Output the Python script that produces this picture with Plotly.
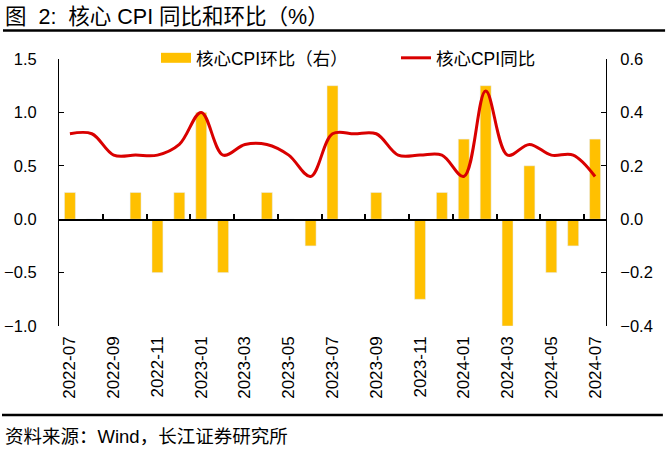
import plotly.graph_objects as go

months = ["2022-07", "2022-08", "2022-09", "2022-10", "2022-11", "2022-12",
          "2023-01", "2023-02", "2023-03", "2023-04", "2023-05", "2023-06",
          "2023-07", "2023-08", "2023-09", "2023-10", "2023-11", "2023-12",
          "2024-01", "2024-02", "2024-03", "2024-04", "2024-05", "2024-06",
          "2024-07"]
core_mom = [0.1, 0.0, 0.0, 0.1, -0.2, 0.1, 0.4, -0.2, 0.0, 0.1, 0.0, -0.1,
            0.5, 0.0, 0.1, 0.0, -0.3, 0.1, 0.3, 0.5, -0.4, 0.2, -0.2, -0.1, 0.3]
core_yoy = [0.8, 0.8, 0.6, 0.6, 0.6, 0.7, 1.0, 0.6, 0.7, 0.7, 0.6, 0.4,
            0.8, 0.8, 0.8, 0.6, 0.6, 0.6, 0.4, 1.2, 0.6, 0.7, 0.6, 0.6, 0.4]
tick_labels = months[::2]
left_ticks = [-1.0, -0.5, 0.0, 0.5, 1.0, 1.5]
right_ticks = [-0.4, -0.2, 0.0, 0.2, 0.4, 0.6]
boundary_ticks = [i + 1.5 for i in range(0, 24, 2)]

FONT = "Liberation Sans, Arial, Noto Sans CJK SC"
BAR_C = "#FFC000"
LINE_C = "#D90000"
ZERO_POS = 0.4  # where 0 sits on both value axes (fraction of plot height)

fig = go.Figure()
fig.add_trace(go.Bar(x=months, y=core_mom, name="核心CPI环比（右）", marker_color=BAR_C,
                     yaxis="y", showlegend=False))
fig.add_trace(go.Scatter(x=[None], y=[None], mode="lines", name="核心CPI环比（右）",
                         line=dict(color=BAR_C, width=10), yaxis="y"))
fig.add_trace(go.Scatter(x=months, y=core_yoy, mode="lines", name="核心CPI同比",
                         line=dict(color=LINE_C, width=3, shape="spline", smoothing=1),
                         yaxis="y2"))
# carrier trace so the zero-line axis (x2 on y3) is drawn
fig.add_trace(go.Scatter(x=[0], y=[None], mode="lines", xaxis="x2", yaxis="y3",
                         showlegend=False, hoverinfo="skip"))

fig.update_layout(
    width=669, height=459,
    margin=dict(l=59, r=63, t=59, b=133, autoexpand=False),
    paper_bgcolor="white", plot_bgcolor="rgba(0,0,0,0)",
    font=dict(family=FONT, size=16, color="#000000"),
    bargap=0.5,
    showlegend=True,
    legend=dict(orientation="h", x=0.1773, y=1.004, xanchor="left", yanchor="middle",
                font=dict(size=17.5), entrywidth=195, entrywidthmode="pixels",
                bgcolor="rgba(0,0,0,0)"),
    xaxis=dict(type="category", categoryorder="array", categoryarray=months,
               tickmode="array", tickvals=tick_labels, ticktext=tick_labels,
               tickangle=-90, ticks="", showline=False, showgrid=False,
               zeroline=False, ticklabelstandoff=6, range=[-0.5, 24.5],
               tickfont=dict(size=17), automargin=False),
    xaxis2=dict(anchor="y3", domain=[0, 1], range=[-0.5, 24.5],
                tickmode="array", tickvals=boundary_ticks, showticklabels=False,
                ticks="inside", ticklen=5, tickwidth=1.5, tickcolor="black",
                showline=True, linecolor="black", linewidth=1.5, showgrid=False,
                zeroline=False, automargin=False, fixedrange=True),
    yaxis3=dict(domain=[ZERO_POS, 1], anchor="x2", visible=False, range=[0, 1],
                fixedrange=True),
    yaxis=dict(side="right", range=[-0.4, 0.6], tickmode="array", tickvals=right_ticks,
               tickformat=".1f", showgrid=False, zeroline=False, showline=True,
               linecolor="black", linewidth=1, ticks="inside", ticklen=5,
               tickcolor="black", ticklabelstandoff=10, tickfont=dict(size=16.5),
               automargin=False),
    yaxis2=dict(side="left", overlaying="y", range=[-1.0, 1.5], tickmode="array",
                tickvals=left_ticks, tickformat=".1f", showgrid=False, zeroline=False,
                showline=True, linecolor="black", linewidth=1, ticks="inside",
                ticklen=5, tickcolor="black", ticklabelstandoff=18,
                tickfont=dict(size=16.5), automargin=False),
)

fig.add_annotation(text="图  2:  核心 CPI 同比和环比（%）", xref="paper", yref="paper",
                   x=-0.1024, y=1.157, xanchor="left", yanchor="middle", showarrow=False,
                   font=dict(size=21.5, family=FONT))
fig.add_annotation(text="资料来源：Wind，长江证券研究所", xref="paper", yref="paper",
                   x=-0.1024, y=-0.4157, xanchor="left", yanchor="middle", showarrow=False,
                   font=dict(size=18.5, family=FONT))
fig.add_shape(type="line", xref="paper", yref="paper", x0=-0.1024, x1=1.108,
              y0=1.1067, y1=1.1067, line=dict(color="black", width=2.5))
fig.add_shape(type="line", xref="paper", yref="paper", x0=-0.1042, x1=1.104,
              y0=-0.3333, y1=-0.3333, line=dict(color="black", width=2.5))

fig.write_html("out.html", config={"displayModeBar": False},
               post_script="document.body.style.margin='0px';")
